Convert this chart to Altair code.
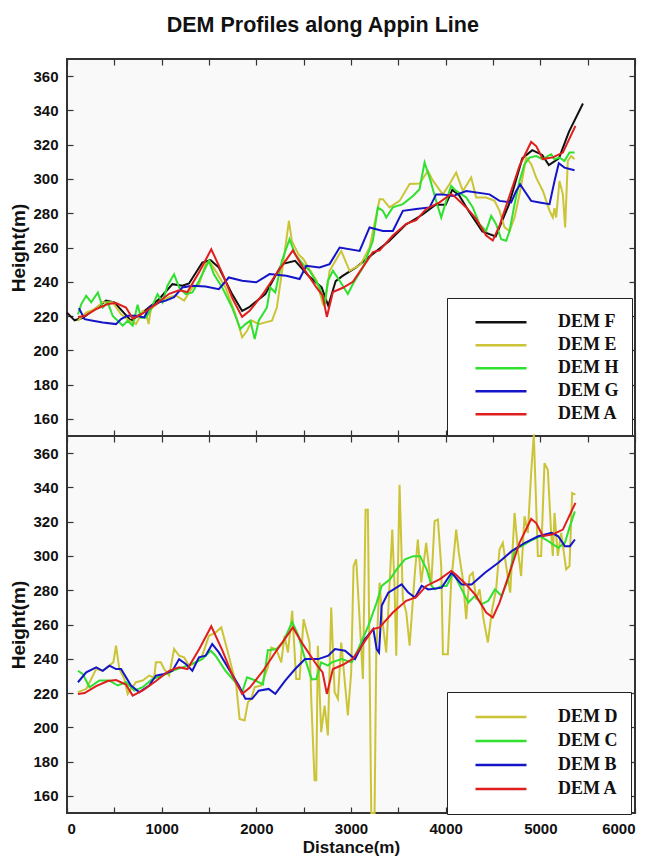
import altair as alt
import pandas as pd

# ---------------- data (distance m, height m) ----------------
DEM_A = [(116, 219.5), (186, 220), (308, 224), (431, 227), (518, 227.6), (623, 225), (694, 218.5),
         (800, 221.5), (940, 227), (1079, 233), (1184, 235), (1272, 234), (1400, 246), (1524, 259),
         (1640, 245), (1750, 230), (1850, 219.5), (1929, 223), (2070, 232.9), (2210, 244.5),
         (2386, 258.3), (2492, 248.4), (2633, 236.8), (2700, 232), (2745, 219.5), (2809, 234),
         (2914, 236.5), (3020, 240), (3161, 251.5), (3231, 257.3), (3302, 258.3), (3442, 267),
         (3583, 273.8), (3689, 276), (3794, 282.5), (3935, 286.3), (4058, 291.2), (4110, 289),
         (4217, 283.4), (4322, 276.7), (4428, 267), (4498, 264.1), (4569, 272.8), (4675, 290.2),
         (4780, 307.7), (4903, 321.6), (4956, 319.2), (5027, 311.6), (5132, 312.6), (5238, 315.4),
         (5371, 331)]

DEM_F = [(0, 222), (80, 217.5), (168, 219), (291, 224), (413, 229), (500, 228), (676, 217.3),
         (799, 222), (974, 230), (1114, 238.6), (1219, 237.7), (1289, 239), (1429, 251.2),
         (1517, 252.6), (1604, 248.3), (1744, 232.8), (1850, 223), (1920, 225), (2095, 232.8),
         (2270, 250.3), (2410, 252.2), (2550, 243.5), (2690, 236.7), (2760, 226), (2838, 240.4),
         (2908, 243.3), (3049, 248.2), (3225, 256), (3401, 263.6), (3577, 273.3), (3753, 279.1),
         (3894, 285), (4000, 285), (4070, 293.6), (4140, 290.7), (4246, 281), (4387, 269.4),
         (4528, 266.5), (4668, 285), (4809, 312), (4915, 316.8), (5020, 314), (5090, 308.1),
         (5196, 312), (5302, 327.5), (5450, 344)]

DEM_E = [(116, 217.3), (203, 222), (291, 224), (378, 228), (483, 228), (571, 221), (659, 217.3),
         (729, 215.3), (800, 223), (834, 222), (862, 215.3), (886, 224), (974, 228), (1079, 231),
         (1149, 232), (1237, 229), (1324, 236.7), (1394, 238.6), (1464, 250.3), (1506, 252),
         (1569, 246.4), (1674, 236.7), (1780, 221), (1850, 207.6), (1902, 211.4), (1955, 217.3),
         (2025, 215.3), (2095, 216.3), (2165, 217.3), (2217, 225), (2287, 252.2), (2344, 275.6),
         (2375, 263.9), (2445, 256), (2498, 253.2), (2550, 248.3), (2638, 240.5), (2703, 227),
         (2721, 226), (2774, 246.4), (2897, 258), (2985, 246.4), (3100, 250), (3196, 260),
         (3302, 288.2), (3336, 288.2), (3407, 283.4), (3513, 287.2), (3619, 297), (3724, 297.3),
         (3812, 304.7), (3865, 299), (3970, 291), (4041, 297), (4111, 303.7), (4182, 293),
         (4270, 300.8), (4322, 289.2), (4428, 289.2), (4516, 287.2), (4569, 281.4), (4622, 271.7),
         (4675, 269.7), (4728, 277.5), (4780, 291), (4851, 312.5), (4904, 308.6), (4956, 300.8),
         (5027, 293), (5098, 281.4), (5132, 277.5), (5150, 283), (5167, 277.5), (5202, 298.8),
         (5238, 291), (5262, 271.7), (5290, 310.5), (5326, 313.4), (5361, 311.5)]

DEM_H = [(116, 221), (151, 227), (203, 231.8), (256, 228), (326, 233.8), (378, 225), (431, 228),
         (483, 220), (536, 217.3), (589, 214.4), (641, 217.3), (694, 214.4), (746, 226.6),
         (781, 219), (834, 219), (886, 224), (956, 232.8), (1009, 228), (1061, 237.7), (1131, 244.4),
         (1184, 236.7), (1254, 232.8), (1324, 233.8), (1394, 240.5), (1464, 248.3), (1499, 252.2),
         (1552, 244.4), (1639, 236.7), (1744, 225), (1832, 212.4), (1885, 215.3), (1937, 217.3),
         (1983, 206.6), (2025, 217.3), (2112, 225), (2147, 236.7), (2200, 233.8), (2270, 252.2),
         (2351, 264.9), (2410, 256), (2492, 250.3), (2563, 246.4), (2668, 236.8), (2721, 227),
         (2756, 240.6), (2809, 246.4), (2880, 240.6), (2967, 232.9), (3020, 238.7), (3126, 248.4),
         (3231, 263.9), (3284, 283.4), (3337, 281.4), (3372, 277.5), (3442, 283.4), (3548, 285.3),
         (3654, 290.1), (3724, 294), (3777, 309.6), (3830, 300.8), (3900, 287), (3953, 277.5),
         (4006, 287.2), (4058, 296), (4111, 293), (4217, 289.2), (4287, 283.4), (4357, 273.6),
         (4428, 269.7), (4481, 278.5), (4533, 273.6), (4586, 264.9), (4639, 263.9), (4675, 269.7),
         (4728, 285.3), (4780, 298.8), (4833, 308.6), (4886, 312.5), (4956, 313.4), (5027, 311.5),
         (5079, 313.4), (5114, 314.4), (5150, 311.5), (5202, 312.5), (5255, 310.5), (5308, 315.4),
         (5361, 315.4)]

DEM_G = [(126, 224.6), (186, 218.2), (273, 217.3), (378, 216.3), (518, 215.3), (571, 218.2),
         (641, 220.2), (729, 220.2), (816, 219.2), (869, 225), (974, 228), (1044, 229), (1131, 231),
         (1219, 236.7), (1324, 237.7), (1464, 237.3), (1604, 235.7), (1709, 242.5), (1850, 240.6),
         (1999, 239.7), (2140, 244.5), (2316, 243.5), (2457, 241.6), (2527, 249.3), (2668, 248.4),
         (2774, 250.3), (2880, 260), (3091, 258), (3196, 271.7), (3337, 269.7), (3442, 269.7),
         (3548, 281.4), (3689, 282.4), (3830, 283.4), (3900, 291), (3964, 291), (4076, 290),
         (4217, 293), (4463, 291), (4569, 287.2), (4692, 286.3), (4745, 293), (4787, 296.9),
         (4833, 293), (4903, 287.2), (4992, 286.3), (5097, 285.3), (5150, 298.8), (5195, 309.2),
         (5255, 306.6), (5361, 305.1)]

DEM_C = [(116, 233), (168, 231), (238, 223.4), (343, 227.3), (448, 227.3), (536, 224.4), (624, 226.3),
         (711, 221.4), (799, 223.4), (904, 228.2), (1009, 230.2), (1114, 233), (1219, 235), (1324, 237),
         (1429, 239.8), (1517, 244.7), (1569, 241.8), (1674, 233), (1780, 226.3), (1850, 220.5),
         (1902, 229.2), (1990, 227.3), (2070, 225), (2122, 245), (2210, 245.6), (2281, 249.5),
         (2379, 261.5), (2445, 253.4), (2515, 239.8), (2585, 228), (2633, 228.2), (2685, 237.9),
         (2756, 236), (2796, 237.9), (2901, 239.8), (3007, 237.9), (3077, 245.7), (3183, 259.2),
         (3271, 272.8), (3324, 282.5), (3412, 286.4), (3482, 292.2), (3570, 298), (3658, 299.9),
         (3729, 299.9), (3799, 292.2), (3852, 282.5), (3887, 280.5), (3958, 282.5), (4010, 282.5),
         (4081, 290.2), (4169, 280.5), (4239, 272.8), (4309, 276.7), (4380, 271.8), (4450, 273.8),
         (4521, 280.5), (4591, 276.7), (4661, 286.4), (4732, 303.8), (4802, 305.7), (4890, 308.6),
         (4996, 311.5), (5084, 308.6), (5189, 304.8), (5260, 307.7), (5313, 317.4), (5365, 326)]

DEM_B = [(116, 226.3), (203, 232.1), (308, 235), (378, 233), (448, 236), (518, 234), (571, 234),
         (676, 224.4), (764, 220.5), (869, 224.4), (939, 230.2), (1026, 231.1), (1114, 233),
         (1184, 239.8), (1254, 237), (1324, 233), (1394, 240.8), (1464, 241.8), (1534, 248.6),
         (1604, 243.7), (1709, 234), (1815, 224.4), (1885, 216.6), (1955, 216.6), (2025, 221.4),
         (2130, 222.4), (2200, 219.5), (2305, 227.3), (2410, 234), (2515, 239.8), (2655, 239.8),
         (2760, 241.8), (2831, 245.7), (2937, 244.7), (3042, 239.8), (3148, 251.5), (3236, 257.3),
         (3271, 245.7), (3296, 243.7), (3324, 270.9), (3394, 278.6), (3535, 283.4), (3605, 278.6),
         (3676, 275.7), (3746, 282.5), (3817, 280.5), (3958, 281.5), (4063, 290.2), (4169, 283.4),
         (4274, 283.4), (4415, 290.2), (4556, 296), (4697, 302.8), (4837, 307.7), (4978, 311.5),
         (5119, 313.5), (5189, 311.5), (5260, 305.7), (5313, 305.7), (5365, 309.6)]

DEM_D = [(116, 220.5), (203, 222.4), (256, 228.2), (308, 234), (378, 233), (448, 236), (490, 238),
         (518, 247.6), (553, 234), (606, 228.2), (641, 219.5), (676, 222.4), (729, 226.3),
         (799, 227.3), (869, 230.2), (921, 229), (939, 237.9), (991, 237.9), (1026, 234),
         (1079, 230.2), (1131, 245.7), (1184, 241.8), (1237, 240.8), (1289, 236), (1359, 237.9),
         (1429, 241.8), (1499, 253.4), (1569, 255.3), (1630, 258.3), (1700, 243.7), (1788, 224.4),
         (1823, 204.9), (1876, 204), (1911, 214.6), (1946, 216.6), (1982, 223.4), (2052, 224.4),
         (2122, 235), (2158, 246.6), (2210, 245.6), (2263, 237.9), (2298, 253.4), (2334, 243.7),
         (2379, 268), (2421, 228.2), (2457, 228.2), (2499, 263.1), (2562, 249.5), (2580, 216.6),
         (2615, 169.1), (2633, 169.1), (2650, 247.6), (2685, 197.2), (2721, 212.7), (2756, 195.3),
         (2791, 269.9), (2827, 220.5), (2862, 216.6), (2897, 249.5), (2967, 206.9), (3002, 232.1),
         (3027, 294.1), (3055, 298), (3091, 263.1), (3126, 228.2), (3154, 327), (3178, 327),
         (3214, 150), (3249, 150), (3267, 243.7), (3302, 284.4), (3330, 263), (3372, 243.7),
         (3436, 315.4), (3460, 282), (3478, 241.8), (3513, 341.6), (3548, 274.7), (3584, 267),
         (3619, 247.6), (3672, 288.3), (3706, 309.6), (3742, 284.4), (3794, 307.7), (3847, 282.5),
         (3883, 320.3), (3918, 321.2), (3953, 294.1), (3971, 242.7), (4023, 242.7), (4058, 284.4),
         (4111, 315.4), (4139, 301.9), (4182, 286.3), (4217, 263.1), (4252, 288.3), (4287, 290.2),
         (4322, 274.7), (4358, 280.5), (4400, 263.1), (4446, 249.5), (4491, 268.9), (4533, 280.5),
         (4569, 303.8), (4604, 307.7), (4639, 294.1), (4682, 278.6), (4728, 325.1), (4762, 303.8),
         (4797, 288.3), (4833, 323.2), (4868, 313.5), (4903, 348.4), (4931, 371), (4974, 300),
         (5008, 300), (5044, 354.2), (5079, 350.3), (5114, 313.5), (5132, 300), (5150, 325.1),
         (5185, 300), (5220, 313.5), (5273, 292.2), (5308, 294.1), (5336, 336.7), (5371, 335.8)]

TOP_ORDER = ["DEM F", "DEM E", "DEM H", "DEM G", "DEM A"]
TOP_COLORS = ["#111111", "#cbc437", "#2fe02f", "#1414c8", "#e01e1e"]
BOTTOM_ORDER = ["DEM D", "DEM C", "DEM B", "DEM A"]
BOTTOM_COLORS = ["#cbc437", "#2fe02f", "#1414c8", "#e01e1e"]

X_DOMAIN = [0, 6000]
Y_DOMAIN = [150, 370]
X_TICKS = list(range(0, 6001, 500))
Y_TICKS = list(range(160, 361, 20))

SERIES = {"DEM A": DEM_A, "DEM B": DEM_B, "DEM C": DEM_C, "DEM D": DEM_D,
          "DEM E": DEM_E, "DEM F": DEM_F, "DEM G": DEM_G, "DEM H": DEM_H}


def make_df(order):
    rows = []
    for k, name in enumerate(order):
        for d, h in SERIES[name]:
            rows.append({"Distance": d, "Height": h, "DEM": name, "z": k})
    return pd.DataFrame(rows)


PLOT_W = 568
PLOT_H = 377


def panel(order, colors, bottom, legend_y, row_h):
    df = make_df(order)
    xs = alt.Scale(domain=X_DOMAIN, nice=False, zero=False)
    ys = alt.Scale(domain=Y_DOMAIN, nice=False, zero=False)

    xkw = dict(values=X_TICKS, orient="bottom", offset=-6, tickSize=6, domain=False,
               grid=False, format="d", labelPadding=8, labelFlush=8,
               labelExpr="datum.value % 1000 == 0 ? datum.label : ''")
    if bottom:
        xkw["title"] = "Distance(m)"
        xkw["titlePadding"] = 3
        xkw["titleFontSize"] = 17
    else:
        xkw["labels"] = False
        xkw["title"] = None
    x_axis = alt.Axis(**xkw)
    y_axis = alt.Axis(values=Y_TICKS, orient="left", offset=-6, tickSize=6, domain=False,
                      grid=False, labelPadding=9, title="Height(m)", titlePadding=4)

    legend = alt.Legend(orient="none", legendX=380, legendY=legend_y, title=None,
                        symbolType="stroke", symbolSize=2601, symbolStrokeWidth=2.5,
                        labelFont="Liberation Serif", labelFontWeight="bold",
                        labelFontSize=18, labelColor="#111111", fillColor="white",
                        strokeColor="#222222", padding=13, symbolOffset=14,
                        labelOffset=30, clipHeight=row_h, rowPadding=0,
                        labelExpr="datum.label + ' '")

    lines = alt.Chart(df).mark_line(strokeWidth=2, clip=False).encode(
        x=alt.X("Distance:Q", scale=xs, axis=x_axis),
        y=alt.Y("Height:Q", scale=ys, axis=y_axis),
        color=alt.Color("DEM:N", scale=alt.Scale(domain=order, range=colors),
                        sort=order, legend=legend),
        detail="DEM:N",
    )

    tick_x = alt.Axis(values=X_TICKS, orient="top", offset=-6, tickSize=6, domain=False,
                      grid=False, labels=False, title=None)
    tick_y = alt.Axis(values=Y_TICKS, orient="right", offset=-6, tickSize=6, domain=False,
                      grid=False, labels=False, title=None)
    ticks = alt.Chart(df).mark_line(opacity=0).encode(
        x=alt.X("Distance:Q", scale=xs, axis=tick_x),
        y=alt.Y("Height:Q", scale=ys, axis=tick_y),
    )
    return alt.layer(lines, ticks).resolve_axis(x="independent", y="independent").properties(
        width=PLOT_W, height=PLOT_H)


top = panel(TOP_ORDER, TOP_COLORS, False, 239, 22.5)
bottom = panel(BOTTOM_ORDER, BOTTOM_COLORS, True, 256, 24)

chart = alt.vconcat(top, bottom, spacing=0, bounds="flush").resolve_scale(
    color="independent"
).resolve_legend(
    color="independent"
).properties(
    title=alt.TitleParams("DEM Profiles along Appin Line", fontSize=21.5, font="Liberation Sans",
                          fontWeight="bold", color="#111111", anchor="middle", offset=21),
    padding={"left": 0, "top": 6, "right": 0, "bottom": 0},
    background="white",
).configure_view(
    fill="#f9f9f9", stroke="#333333", strokeWidth=2
).configure_axis(
    labelFont="Liberation Sans", labelFontWeight="bold", labelFontSize=15, labelColor="#111111",
    titleFont="Liberation Sans", titleFontWeight="bold", titleFontSize=19, titleColor="#111111",
    tickColor="#333333", tickWidth=1.2
)

chart.save("out.html", embed_options={"renderer": "svg", "actions": False})
